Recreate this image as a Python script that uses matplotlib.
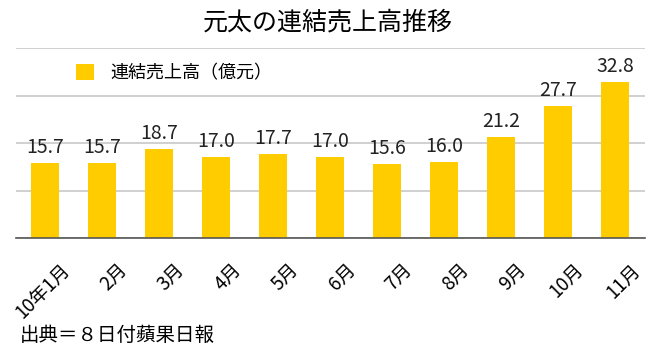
import matplotlib
matplotlib.use('Agg')
import matplotlib.pyplot as plt
from matplotlib.transforms import ScaledTranslation

plt.rcParams['font.family'] = ['Noto Sans CJK JP', 'DejaVu Sans']

months = ['10年1月', '2月', '3月', '4月', '5月', '6月', '7月', '8月', '9月', '10月', '11月']
sales = [15.7, 15.7, 18.7, 17.0, 17.7, 17.0, 15.6, 16.0, 21.2, 27.7, 32.8]
yticks = [0, 10, 20, 30, 40]

fig = plt.figure(figsize=(6.56, 3.51), dpi=100)
ax = fig.add_axes([0.024, 0.322, 0.959, 0.541])

x = list(range(len(months)))
bars = ax.bar(x, sales, width=0.49, color='#FFCC00', label='連結売上高（億元）', zorder=2)
for xi, v in zip(x, sales):
    ax.text(xi, v + 1.1, '%.1f' % v, ha='center', va='bottom', fontsize=14, color='#222222')

ax.set_xlim(-0.51, 10.52)
ax.set_ylim(0, 40)
ax.set_yticks(yticks)
ax.yaxis.grid(True, color='#c8c8c8', linewidth=1.2, zorder=0)
ax.tick_params(axis='y', left=False, labelleft=False)
ax.tick_params(axis='x', bottom=False, pad=12)
for s in ['top', 'right', 'left']:
    ax.spines[s].set_visible(False)
ax.spines['bottom'].set_color('#555555')
ax.spines['bottom'].set_linewidth(1.2)

ax.set_xticks(x)
ax.set_xticklabels(months, rotation=45, ha='right', rotation_mode='anchor', fontsize=13.5)
# shift labels right so their ends sit past the bar centre
shift = ScaledTranslation(15 / 100, 0, fig.dpi_scale_trans)
for lab in ax.get_xticklabels():
    lab.set_transform(lab.get_transform() + shift)

ax.legend(loc='upper left', bbox_to_anchor=(0.07, 1.0), frameon=False, fontsize=13,
          handlelength=1.0, handleheight=1.0, handletextpad=0.9)

fig.text(0.5, 0.935, '元太の連結売上高推移', ha='center', va='center', fontsize=18)
fig.text(0.03, 0.045, '出典＝８日付蘋果日報', ha='left', va='center', fontsize=14)

fig.savefig('out.png', dpi=100)
